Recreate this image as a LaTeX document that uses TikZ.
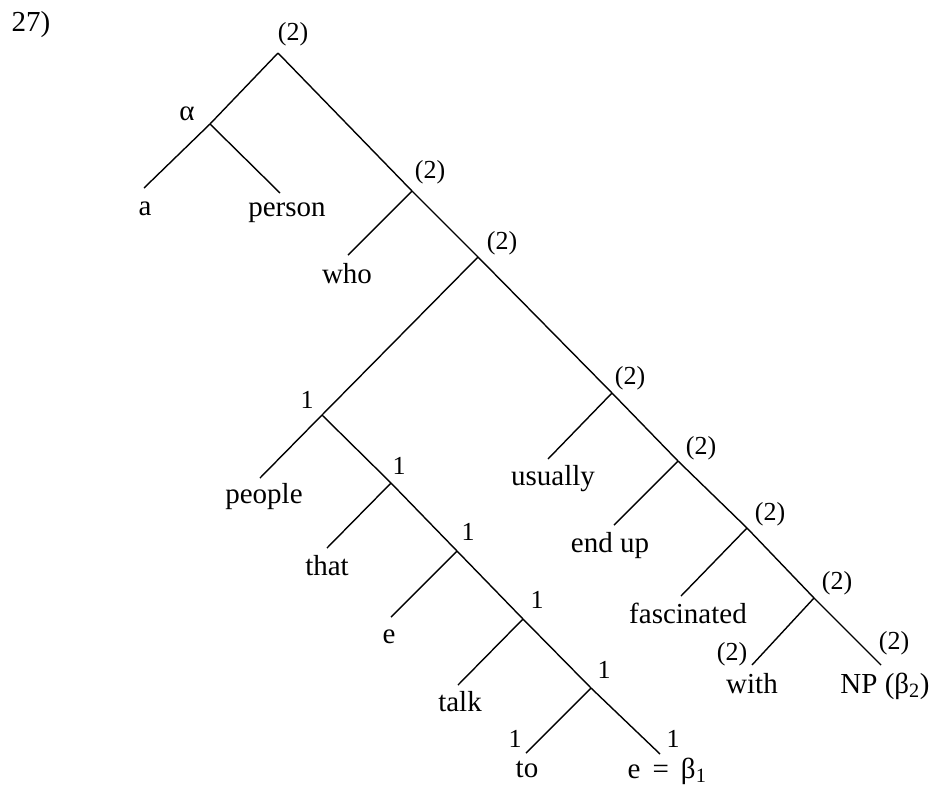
\documentclass[tikz,border=0pt]{standalone}
\usepackage{fontspec}
\setmainfont{Liberation Serif}
\begin{document}
\begin{tikzpicture}
        [x=10pt, y=-10pt,
        branch/.style={line width=1.4pt},
        word/.style={font=\fontsize{29}{30}\selectfont, anchor=base, inner sep=0pt},
        lbl/.style={font=\fontsize{26}{27}\selectfont, inner sep=0pt}]
        \useasboundingbox (0,0) rectangle (93.1,78.8);
        \node[word] (num) at (3.1,3.1) {27)};

        % spine
        \coordinate (R) at (27.8,5.3);
        \coordinate (A) at (21.0,12.4);
        \coordinate (N2) at (41.2,19.1);
        \coordinate (N3) at (47.8,25.7);
        \coordinate (U) at (61.2,39.3);
        \coordinate (D) at (67.8,46.1);
        \coordinate (F) at (74.7,52.8);
        \coordinate (W) at (81.4,59.8);
        % relative clause
        \coordinate (P) at (32.2,41.5);
        \coordinate (T) at (39.1,48.3);
        \coordinate (E) at (45.7,55.1);
        \coordinate (K) at (52.3,61.9);
        \coordinate (O) at (59.1,68.8);
        % leaf ends
        \coordinate (aEnd) at (14.4,18.8);
        \coordinate (personEnd) at (28.0,19.3);
        \coordinate (whoEnd) at (34.8,25.5);
        \coordinate (peopleEnd) at (26.0,47.8);
        \coordinate (thatEnd) at (32.7,54.8);
        \coordinate (eEnd) at (39.1,61.7);
        \coordinate (talkEnd) at (45.8,68.5);
        \coordinate (toEnd) at (52.6,75.3);
        \coordinate (betaEnd) at (66.0,75.4);
        \coordinate (usuallyEnd) at (54.8,45.9);
        \coordinate (endupEnd) at (61.4,52.5);
        \coordinate (fascEnd) at (68.1,59.6);
        \coordinate (withEnd) at (75.2,66.5);
        \coordinate (NPEnd) at (88.1,66.5);

        \node[word] (a) at (14.5,21.5) {a};
        \node[word] (person) at (28.7,21.6) {person};
        \node[word] (who) at (34.7,28.3) {who};
        \node[word] (people) at (26.4,50.3) {people};
        \node[word] (that) at (32.7,57.5) {that};
        \node[word] (e) at (38.9,64.3) {e};
        \node[word] (talk) at (46.0,71.1) {talk};
        \node[word] (to) at (52.7,77.7) {to};
        \node[word] (beta) at (66.7,77.8) {e \,=\, β\textsubscript{1}};
        \node[word] (usually) at (55.3,48.5) {usually};
        \node[word] (endup) at (61.0,55.2) {end up};
        \node[word] (fasc) at (68.8,62.3) {fascinated};
        \node[word] (with) at (75.2,69.3) {with};
        \node[word] (NP) at (88.5,69.3) {NP (β\textsubscript{2})};

        \node[lbl] (lR) at (29.3,3.4) {(2)};
        \node[lbl, font=\fontsize{29}{30}\selectfont] (lA) at (18.7,11.4) {α};
        \node[lbl] (lN2) at (43.0,17.2) {(2)};
        \node[lbl] (lN3) at (50.2,24.3) {(2)};
        \node[lbl] (lU) at (63.0,37.8) {(2)};
        \node[lbl] (lD) at (70.1,44.8) {(2)};
        \node[lbl] (lF) at (77.0,51.4) {(2)};
        \node[lbl] (lW) at (83.7,58.3) {(2)};
        \node[lbl] (lwith) at (73.2,65.4) {(2)};
        \node[lbl] (lNP) at (89.4,64.3) {(2)};
        \node[lbl] (lP) at (30.7,40.0) {1};
        \node[lbl] (lT) at (39.9,46.6) {1};
        \node[lbl] (lE) at (46.8,53.2) {1};
        \node[lbl] (lK) at (53.7,60.0) {1};
        \node[lbl] (lO) at (60.4,67.0) {1};
        \node[lbl] (lto) at (51.5,73.9) {1};
        \node[lbl] (lbeta) at (67.3,73.9) {1};

        \draw[branch] (R) -- (A);
        \draw[branch] (A) -- (aEnd);
        \draw[branch] (A) -- (personEnd);
        \draw[branch] (R) -- (N2) -- (N3) -- (U) -- (D) -- (F) -- (W) -- (NPEnd);
        \draw[branch] (N2) -- (whoEnd);
        \draw[branch] (N3) -- (P);
        \draw[branch] (P) -- (peopleEnd);
        \draw[branch] (P) -- (T) -- (E) -- (K) -- (O) -- (betaEnd);
        \draw[branch] (T) -- (thatEnd);
        \draw[branch] (E) -- (eEnd);
        \draw[branch] (K) -- (talkEnd);
        \draw[branch] (O) -- (toEnd);
        \draw[branch] (U) -- (usuallyEnd);
        \draw[branch] (D) -- (endupEnd);
        \draw[branch] (F) -- (fascEnd);
        \draw[branch] (W) -- (withEnd);

\end{tikzpicture}
\end{document}
